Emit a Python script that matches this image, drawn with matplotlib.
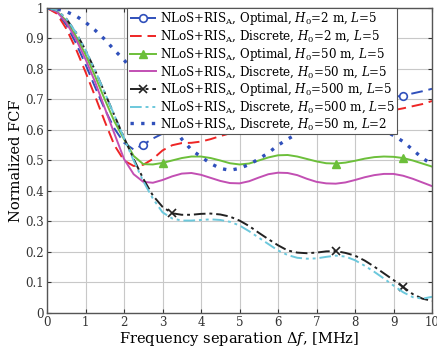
import numpy as np
import matplotlib
matplotlib.use("Agg")
import matplotlib.pyplot as plt

plt.rcParams["font.family"] = ["DejaVu Serif"]
plt.rcParams["mathtext.fontset"] = "dejavuserif"

# frequency separation grid [MHz]
df = np.arange(0, 10.001, 0.25)

opt_h2 = [1.0, 0.985, 0.945, 0.885, 0.815, 0.74, 0.668, 0.605, 0.558, 0.536, 0.552, 0.572, 0.588,
          0.6, 0.608, 0.615, 0.622, 0.628, 0.634, 0.64, 0.645, 0.65, 0.655, 0.66, 0.665, 0.669,
          0.673, 0.677, 0.681, 0.685, 0.689, 0.693, 0.696, 0.699, 0.702, 0.705, 0.708, 0.713,
          0.72, 0.727, 0.735]
dis_h2 = [1.0, 0.982, 0.932, 0.866, 0.79, 0.71, 0.628, 0.55, 0.5, 0.482, 0.486, 0.505, 0.533,
          0.55, 0.557, 0.558, 0.562, 0.57, 0.58, 0.589, 0.598, 0.607, 0.615, 0.621, 0.627, 0.632,
          0.636, 0.64, 0.643, 0.646, 0.649, 0.652, 0.655, 0.657, 0.66, 0.662, 0.665, 0.671,
          0.678, 0.685, 0.695]
opt_h50 = [1.0, 0.99, 0.958, 0.908, 0.847, 0.776, 0.70, 0.628, 0.57, 0.515, 0.488, 0.487, 0.492,
           0.5, 0.508, 0.513, 0.513, 0.508, 0.5, 0.491, 0.487, 0.49, 0.5, 0.51, 0.517, 0.518,
           0.513, 0.505, 0.497, 0.491, 0.49, 0.493, 0.499, 0.506, 0.511, 0.513, 0.512, 0.508,
           0.5, 0.49, 0.48]
dis_h50 = [1.0, 0.988, 0.952, 0.898, 0.832, 0.757, 0.672, 0.588, 0.505, 0.455, 0.43, 0.427, 0.436,
           0.448, 0.457, 0.459, 0.453, 0.443, 0.433, 0.426, 0.425, 0.432, 0.444, 0.455, 0.46,
           0.459, 0.452, 0.44, 0.43, 0.425, 0.424, 0.428, 0.436, 0.445, 0.452, 0.456, 0.456,
           0.45, 0.44, 0.428, 0.416]
opt_h500 = [1.0, 0.993, 0.965, 0.92, 0.862, 0.795, 0.722, 0.648, 0.575, 0.505, 0.44, 0.385, 0.348,
            0.327, 0.322, 0.322, 0.325, 0.326, 0.323, 0.316, 0.303, 0.285, 0.263, 0.242, 0.222,
            0.205, 0.198, 0.196, 0.198, 0.202, 0.203, 0.197, 0.188, 0.172, 0.152, 0.13, 0.108,
            0.085, 0.062, 0.047, 0.04]
dis_h500 = [1.0, 0.993, 0.965, 0.92, 0.862, 0.795, 0.722, 0.648, 0.573, 0.5, 0.432, 0.375, 0.33,
            0.31, 0.303, 0.303, 0.305, 0.307, 0.305, 0.299, 0.287, 0.268, 0.247, 0.226, 0.205,
            0.19, 0.181, 0.178, 0.179, 0.184, 0.188, 0.185, 0.173, 0.155, 0.135, 0.113, 0.09,
            0.068, 0.052, 0.047, 0.053]
dis_h50_l2 = [1.0, 0.997, 0.988, 0.974, 0.953, 0.927, 0.897, 0.862, 0.83, 0.79, 0.748, 0.705, 0.66,
              0.615, 0.57, 0.535, 0.512, 0.49, 0.474, 0.468, 0.474, 0.487, 0.505, 0.525, 0.55,
              0.57, 0.588, 0.602, 0.615, 0.622, 0.625, 0.624, 0.62, 0.616, 0.61, 0.598, 0.582,
              0.562, 0.535, 0.508, 0.487]

labels = [
    r"NLoS+RIS$_\mathrm{A}$, Optimal, $H_0$=2 m, $L$=5",
    r"NLoS+RIS$_\mathrm{A}$, Discrete, $H_0$=2 m, $L$=5",
    r"NLoS+RIS$_\mathrm{A}$, Optimal, $H_0$=50 m, $L$=5",
    r"NLoS+RIS$_\mathrm{A}$, Discrete, $H_0$=50 m, $L$=5",
    r"NLoS+RIS$_\mathrm{A}$, Optimal, $H_0$=500 m, $L$=5",
    r"NLoS+RIS$_\mathrm{A}$, Discrete, $H_0$=500 m, $L$=5",
    r"NLoS+RIS$_\mathrm{A}$, Discrete, $H_0$=50 m, $L$=2",
]

BLUE = "#3050bb"; RED = "#ee2525"; GREEN = "#6cbf3a"; MAG = "#c24fb3"; CYAN = "#6cc8dc"

fig = plt.figure(figsize=(4.37, 3.47), dpi=100)
ax = fig.add_axes([0.1076, 0.098, 0.881, 0.879])

ax.plot(df, opt_h2, color=BLUE, lw=1.4, ls=(0, (6, 3)), marker="o", mfc="white", ms=5.5,
        mew=1.2, markevery=[10, 37], label=labels[0])
ax.plot(df, dis_h2, color=RED, lw=1.4, ls=(0, (6, 3)), label=labels[1])
ax.plot(df, opt_h50, color=GREEN, lw=1.4, marker="^", ms=6, markevery=[12, 30, 37], label=labels[2])
ax.plot(df, dis_h50, color=MAG, lw=1.4, label=labels[3])
ax.plot(df, opt_h500, color="#222222", lw=1.4, ls=(0, (6, 2, 1.5, 2)), marker="x", ms=6, mew=1.2,
        markevery=[13, 30, 37], label=labels[4])
ax.plot(df, dis_h500, color=CYAN, lw=1.4, ls=(0, (6, 2, 1.5, 2, 1.5, 2)), label=labels[5])
ax.plot(df, dis_h50_l2, color=BLUE, lw=2.4, ls=(0, (1, 2.2)), label=labels[6])

ax.set_xlim(0, 10); ax.set_ylim(0, 1)
ax.set_xticks(range(0, 11))
ax.set_yticks(np.arange(0, 1.01, 0.1))
ax.set_yticklabels(["0", "0.1", "0.2", "0.3", "0.4", "0.5", "0.6", "0.7", "0.8", "0.9", "1"])
ax.tick_params(direction="in", length=3, labelsize=8.5, colors="#333333", top=True, right=True, pad=2)
ax.grid(color="#c8c8c8", lw=0.8)
for s in ax.spines.values():
    s.set_color("#555555"); s.set_linewidth(1.0)
ax.set_xlabel(r"Frequency separation $\Delta f$, [MHz]", fontsize=10.5, labelpad=1)
ax.set_ylabel("Normalized FCF", fontsize=10.5, labelpad=2)

leg = ax.legend(loc="upper right", bbox_to_anchor=(0.909, 1.0), borderaxespad=0, fontsize=8.6,
                handlelength=2.2, handletextpad=0.3, labelspacing=0.12, borderpad=0.2,
                fancybox=False, framealpha=1, edgecolor="#555555")
leg.get_frame().set_linewidth(0.8)

fig.savefig("out.png", dpi=100)
